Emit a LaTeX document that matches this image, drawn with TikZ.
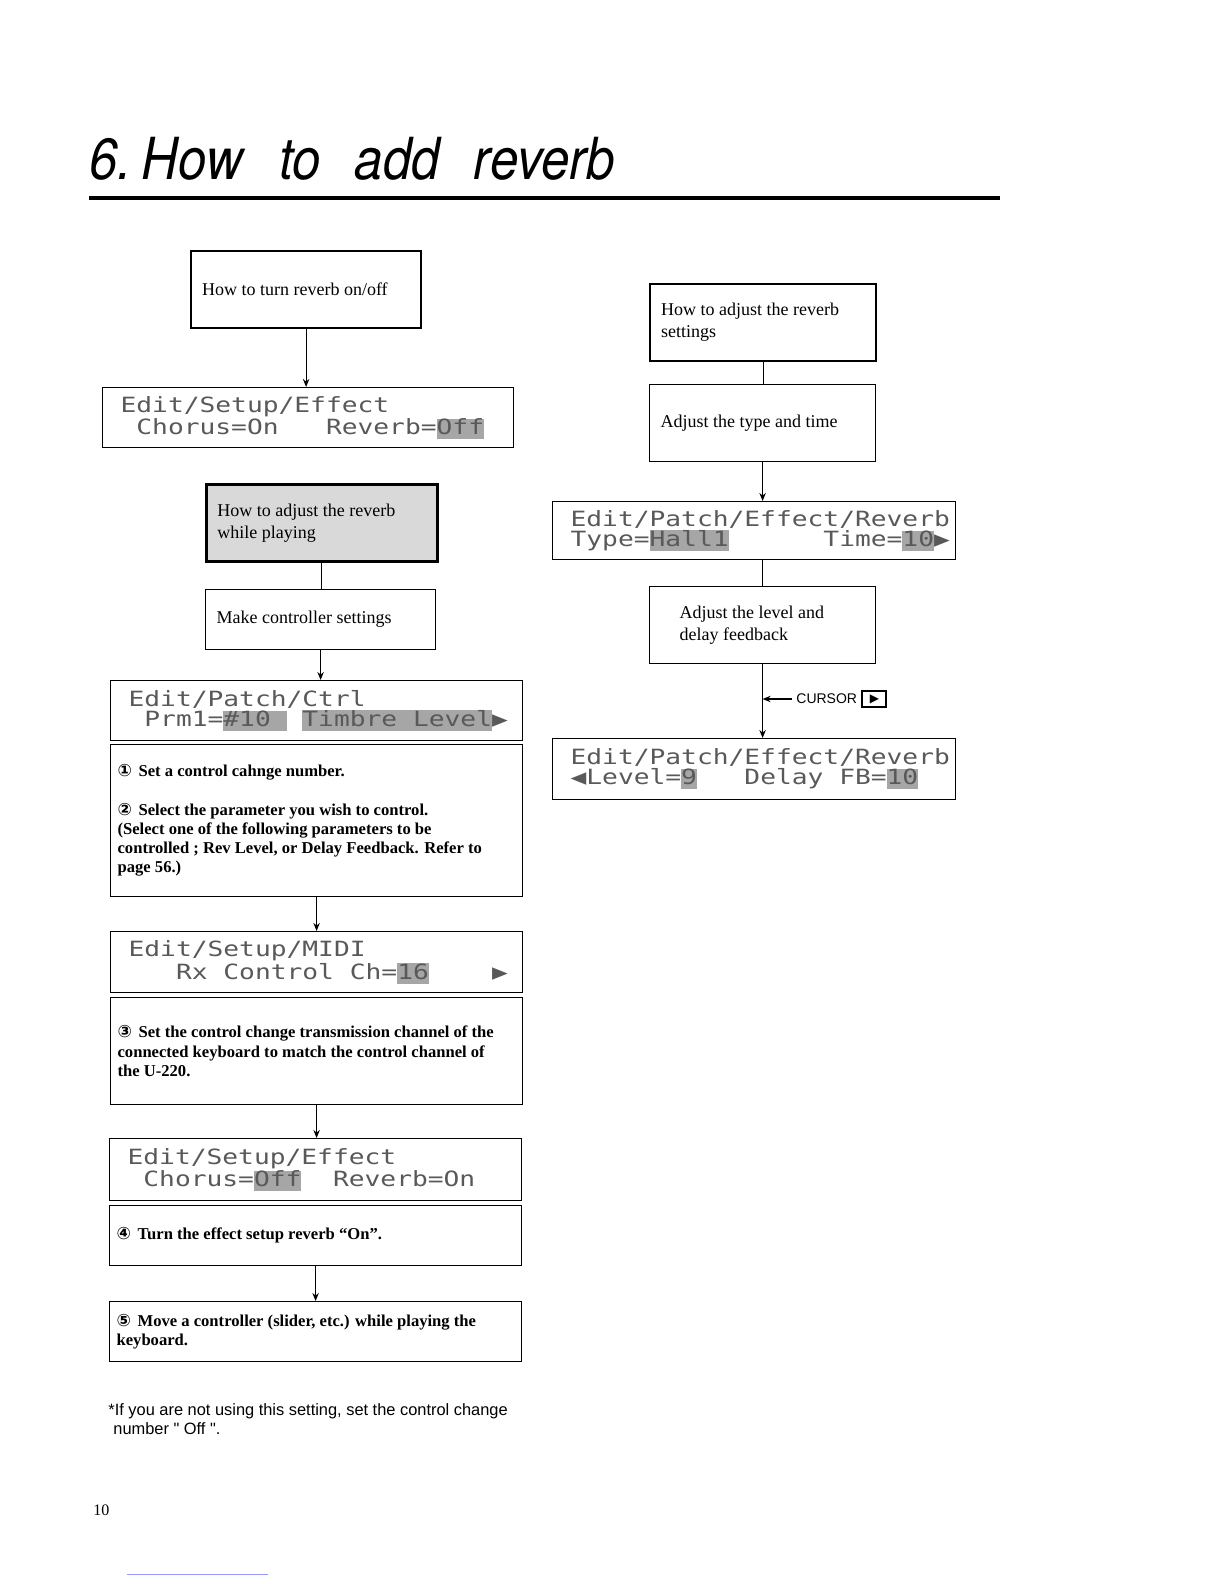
\documentclass[tikz,border=0pt]{standalone}
\usepackage{fontspec}
\setmainfont{Liberation Serif}
\newfontfamily\titlefont[FakeStretch=0.88]{TeX Gyre Heros}
\newfontfamily\lcdfont[FakeStretch=1.25]{DejaVu Sans Mono}
\newfontfamily\notefont{Liberation Sans}
\newfontfamily\symbfont{DejaVu Sans}
\usetikzlibrary{arrows.meta, positioning}

\newcommand{\lcdhl}[1]{{\setlength{\fboxsep}{0pt}\colorbox{black!35}{\vphantom{Ag}#1}}}
\newcommand{\numitem}[2]{\hangindent=10.5pt\hangafter=1\noindent\makebox[10.5pt][l]{\symbfont\fontsize{8.5}{9.6}\selectfont #1}#2\par}

\begin{document}
\begin{tikzpicture}[x=0.5pt, y=-0.5pt,
  topic/.style={draw, line width=0.6pt, anchor=north west, align=flush left, inner xsep=5.5pt, inner ysep=0pt, font=\fontsize{9}{11}\selectfont},
  lcd/.style={draw, line width=0.6pt, anchor=north west, align=flush left, inner xsep=9pt, inner ysep=0pt, text=black!65, font=\lcdfont\fontsize{10.5}{10}\selectfont\def~{\hphantom{0}}},
  note/.style={draw, line width=0.6pt, anchor=north west, align=flush left, inner xsep=3.5pt, inner ysep=0pt, font=\bfseries\fontsize{8.3}{9.6}\selectfont},
  link/.style={line width=0.6pt},
  flow/.style={link, -{Stealth[length=4pt, width=3.2pt]}}]
  \useasboundingbox (0,0) rectangle (1224,1584);

  \node[anchor=base west, inner sep=0pt, font=\titlefont\itshape\fontsize{29}{29}\selectfont] (title) at (89,179) {6.\hspace{5pt}How\hspace{18pt}to\hspace{17pt}add\hspace{17pt}reverb};
  \draw[line width=1.6pt] (89,198) -- (1000,198);

  % left column
  \node[topic, line width=1.1pt, text width=104pt, minimum height=38.5pt] (onoff) at (190,250) {How to turn reverb on/off};
  \node[lcd, text width=187.5pt, minimum height=30pt] (lcdA) at (102,387) {Edit/Setup/Effect\\~Chorus=On~~~Reverb=\lcdhl{Off}};
  \node[topic, line width=1.3pt, fill=black!15, text width=104.5pt, minimum height=38.5pt] (play) at (205,483) {How to adjust the reverb\\ while playing};
  \node[topic, text width=104pt, minimum height=30pt] (ctrlset) at (205,589) {Make controller settings};
  \node[lcd, text width=188pt, minimum height=30pt] (lcdB) at (110,680) {Edit/Patch/Ctrl\\~Prm1=\lcdhl{\#10~}~\lcdhl{Timbre~Level}▶};
  \node[note, text width=199pt, minimum height=76pt] (stepsA) at (110,744) {%
    \numitem{①}{Set a control cahnge number.}\vspace{9.6pt}
    \numitem{②}{Select the parameter you wish to control.\\ (Select one of the following parameters to be\\ controlled ; Rev Level, or Delay Feedback. Refer to\\ page 56.)}};
  \node[lcd, text width=188pt, minimum height=30.5pt] (lcdC) at (110,931) {Edit/Setup/MIDI\\~~~Rx~Control~Ch=\lcdhl{16}~~~~▶};
  \node[note, text width=199pt, minimum height=53.5pt] (stepsB) at (110,997) {%
    \numitem{③}{Set the control change transmission channel of the\\ connected keyboard to match the control channel of\\ the U-220.}};
  \node[lcd, text width=188pt, minimum height=31pt] (lcdD) at (109,1138) {Edit/Setup/Effect\\~Chorus=\lcdhl{Off}~~Reverb=On};
  \node[note, text width=199pt, minimum height=30pt] (stepsC) at (109,1205) {%
    \numitem{④}{Turn the effect setup reverb “On”.}};
  \node[note, text width=199pt, minimum height=30pt] (stepsD) at (109,1301) {%
    \numitem{⑤}{Move a controller (slider, etc.) while playing the\\ keyboard.}};

  \draw[flow] (onoff.south) -- (onoff.south |- lcdA.north);
  \draw[link] (play.south) -- (play.south |- ctrlset.north);
  \draw[flow] (ctrlset.south) -- (ctrlset.south |- lcdB.north);
  \draw[flow] (stepsA.south) -- (stepsA.south |- lcdC.north);
  \draw[flow] (stepsB.south) -- (stepsB.south |- lcdD.north);
  \draw[flow] (stepsC.south) -- (stepsC.south |- stepsD.north);

  % right column
  \node[topic, line width=1.1pt, text width=102pt, minimum height=38.5pt] (settings) at (649,283) {How to adjust the reverb\\ settings};
  \node[topic, text width=102pt, minimum height=38.5pt] (typetime) at (649,384) {Adjust the type and time};
  \node[lcd, text width=183.5pt, minimum height=29pt] (lcdE) at (552,501) {Edit/Patch/Effect/Reverb\\Type=\lcdhl{Hall1}~~~~~~Time=\lcdhl{10}▶};
  \node[topic, inner xsep=15pt, text width=83pt, minimum height=38.5pt] (levelfb) at (649,586) {Adjust the level and\\ delay feedback};
  \node[lcd, text width=183.5pt, minimum height=30.5pt] (lcdF) at (552,738) {Edit/Patch/Effect/Reverb\\◀Level=\lcdhl{9}~~~Delay~FB=\lcdhl{10}};

  \draw[link] (settings.south) -- (settings.south |- typetime.north);
  \draw[flow] (typetime.south) -- (typetime.south |- lcdE.north);
  \draw[link] (levelfb.north) -- (levelfb.north |- lcdE.south);
  \draw[flow] (levelfb.south) -- (levelfb.south |- lcdF.north);

  \node[anchor=west, inner sep=0pt, font=\notefont\fontsize{7}{7}\selectfont] (cursor) at (796,699) {CURSOR};
  \node[draw, line width=0.9pt, inner sep=0pt, minimum width=12pt, minimum height=8pt, right=2pt of cursor, font=\symbfont\fontsize{6}{6}\selectfont] (cursorkey) {▶};
  \draw[flow] ([xshift=-2pt]cursor.west) -- (cursor.west -| levelfb.south);

  % footnote and page
  \node[anchor=north west, align=flush left, inner sep=0pt, font=\notefont\fontsize{8.2}{9.5}\selectfont] (footnote) at (108,1403) {*If you are not using this setting, set the control change\\ \hspace*{2.5pt}number "~Off~".};
  \node[anchor=base west, inner sep=0pt, font=\fontsize{8}{8}\selectfont] (pageno) at (93,1515) {10};
  \draw[blue!40, line width=0.5pt] (127,1574) -- (268,1574);
\end{tikzpicture}
\end{document}
